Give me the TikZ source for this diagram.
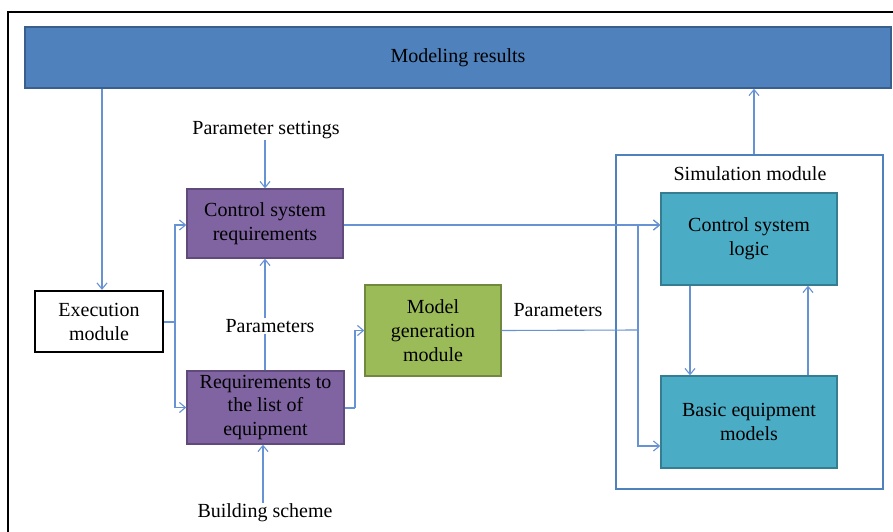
\documentclass[tikz,border=0pt]{standalone}
\usepackage{fontspec}
\setmainfont{Liberation Serif}
\usetikzlibrary{arrows.meta}
\definecolor{barblue}{HTML}{4F81BD}
\definecolor{barline}{HTML}{3A5F8C}
\definecolor{purp}{HTML}{8064A2}
\definecolor{purpline}{HTML}{5F4A7B}
\definecolor{grn}{HTML}{9BBB59}
\definecolor{grnline}{HTML}{71893F}
\definecolor{teal}{HTML}{4BACC6}
\definecolor{tealline}{HTML}{357D91}
\definecolor{conn}{HTML}{6792D3}
\tikzset{
  txt/.style={font=\fontsize{20}{24}\selectfont, align=center, inner sep=1pt},
  arr/.style={conn, line width=1.1pt, -{Straight Barb[length=6pt,width=10pt,line width=1.1pt]}},
  ln/.style={conn, line width=1.1pt},
}
\begin{document}
\begin{tikzpicture}[x=1pt,y=-1pt]
\useasboundingbox (0,0) rectangle (893,532);
\clip (0,0) rectangle (893,532);
\fill[white] (0,0) rectangle (893,532);
% outer frame
\draw[black, line width=2.2pt] (8,540) -- (8,12) -- (900,12);
% modeling results bar
\node[txt, fill=barblue, draw=barline, line width=1.5pt, minimum width=866pt, minimum height=61pt] (bar) at (458,57.5) {Modeling results};
% execution module
\node[txt, fill=white, draw=black, line width=2.4pt, minimum width=128pt, minimum height=61pt] (exec) at (99,321.5) {Execution\\module};
% purple boxes
\node[txt, fill=purp, draw=purpline, line width=1.4pt, minimum width=156pt, minimum height=69pt] (csreq) at (265,223.5) {Control system\\requirements};
\node[txt, fill=purp, draw=purpline, line width=1.4pt, minimum width=157pt, minimum height=73pt, font=\fontsize{20}{23.5}\selectfont] (req) at (265.5,407.5) {Requirements to\\the list of\\equipment};
% model generation
\node[txt, fill=grn, draw=grnline, line width=1.4pt, minimum width=136pt, minimum height=91pt] (model) at (433,330.5) {Model\\generation\\module};
% simulation module frame
\node[draw=barblue, line width=1.8pt, minimum width=267pt, minimum height=334pt, inner sep=0pt] (sim) at (749.5,322) {};
\node[txt] (simlab) at (750,174) {Simulation module};
\node[txt, fill=teal, draw=tealline, line width=1.4pt, minimum width=176pt, minimum height=92pt] (logic) at (749,239) {Control system\\logic};
\node[txt, fill=teal, draw=tealline, line width=1.4pt, minimum width=176pt, minimum height=92pt] (basic) at (749,422) {Basic equipment\\models};
% labels
\node[txt] (pset) at (266,130) {Parameter settings};
\node[txt] (par1) at (270,326) {Parameters};
\node[txt] (bld) at (265,513) {Building scheme};
\node[txt] (par2) at (558,310) {Parameters};
% helper coordinates
\coordinate (ej) at (175,322);
\coordinate (rj) at (355,408);
\coordinate (mj) at (638,330);
% connectors
\draw[arr] (102,0 |- bar.south) -- (102,0 |- exec.north);
\draw[arr] (754,0 |- sim.north) -- (754,0 |- bar.south);
\draw[arr] (pset.south -| 265,0) -- (csreq.north -| 265,0);
\draw[ln] (exec.east |- ej) -- (ej);
\draw[arr] (ej) |- ([yshift=-1.5pt]csreq.west);
\draw[arr] (ej) |- (req.west);
\draw[ln] (req.north -| 265,0) -- (par1.south -| 265,0);
\draw[arr] (par1.north -| 265,0) -- (csreq.south -| 265,0);
\draw[arr] (bld.north -| 263,0) -- (req.south -| 263,0);
\draw[ln] (req.east |- rj) -- (rj);
\draw[arr] (rj) |- (model.west);
\draw[ln] (model.east) -- (mj);
\draw[arr] (mj) |- ([yshift=14pt]logic.west);
\draw[arr] (mj) |- ([yshift=-24pt]basic.west);
\draw[arr] ([yshift=-1.5pt]csreq.east) -- ([yshift=-1.5pt]csreq.east -| logic.west);
\draw[arr] (logic.south -| 690,0) -- (basic.north -| 690,0);
\draw[arr] (basic.north -| 808,0) -- (logic.south -| 808,0);
\end{tikzpicture}
\end{document}
